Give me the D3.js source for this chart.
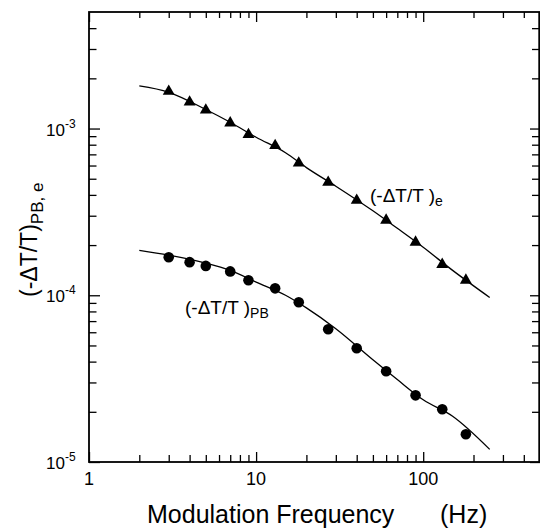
<!DOCTYPE html>
<html>
<head>
<meta charset="utf-8">
<script src="https://cdn.jsdelivr.net/npm/d3@7"></script>
<style>
	body { margin: 0; background: #fff; }
	svg { display: block; }
	text { font-family: Arial, "Liberation Sans", Helvetica, sans-serif; fill: #000; }
</style>
</head>
<body>
<svg width="540" height="529"></svg>
<script>
// Data
//-----------------------------------------------------------------------------//
const frequencies = [3, 4, 5, 7, 9, 13, 18, 27, 40, 60, 90, 130, 180];
const valuesE = [1.67e-3, 1.44e-3, 1.29e-3, 1.08e-3, 0.92e-3, 0.79e-3, 0.62e-3, 0.476e-3, 0.371e-3, 0.282e-3, 0.208e-3, 0.153e-3, 0.123e-3];
const valuesPB = [1.69e-4, 1.58e-4, 1.50e-4, 1.39e-4, 1.23e-4, 1.10e-4, 0.908e-4, 0.625e-4, 0.481e-4, 0.350e-4, 0.251e-4, 0.207e-4, 0.1466e-4];

// fitted curves, points
const fitFreq = [2, 3, 5, 7, 10, 15, 20, 30, 50, 70, 100, 150, 250];
const fitE = [1.80e-3, 1.65e-3, 1.30e-3, 1.09e-3, 0.887e-3, 0.716e-3, 0.583e-3, 0.451e-3, 0.321e-3, 0.252e-3, 0.194e-3, 0.141e-3, 0.097e-3];
const fitPB = [1.86e-4, 1.74e-4, 1.56e-4, 1.41e-4, 1.20e-4, 1.00e-4, 0.840e-4, 0.630e-4, 0.410e-4, 0.312e-4, 0.236e-4, 0.188e-4, 0.119e-4];

// ticks
const xMajor = [1, 10, 100];
const xMinor = [2, 3, 4, 5, 6, 7, 8, 9, 20, 30, 40, 50, 60, 70, 80, 90, 200, 300, 400];
const yMajor = [1e-5, 1e-4, 1e-3];
const yMinor = [2e-5, 3e-5, 4e-5, 5e-5, 6e-5, 7e-5, 8e-5, 9e-5, 2e-4, 3e-4, 4e-4, 5e-4, 6e-4, 7e-4, 8e-4, 9e-4, 2e-3, 3e-3, 4e-3];
const xTickLabels = ["1", "10", "100"];
const yTickExp = ["-5", "-4", "-3"];

// Constanten
//-----------------------------------------------------------------------------//
const svg = d3.select("svg");
const mLeft = 89, mRight = 540, mTop = 12, mBottom = 462;

const x = d3.scaleLog().domain([1, 500]).range([mLeft, mRight]);
const y = d3.scaleLog().domain([1e-5, 5e-3]).range([mBottom, mTop]);

// Assen met ticks naar binnen
//-----------------------------------------------------------------------------//
function axis(gen, values, size, tx, ty) {
	svg.append("g")
		.attr("transform", `translate(${tx},${ty})`)
		.call(gen.tickValues(values).tickSize(size).tickFormat(""))
		.call(g => g.select(".domain").remove())
		.selectAll("line")
		.attr("stroke", "#000")
		.attr("stroke-width", 1.3);
}

axis(d3.axisBottom(x), xMinor, -7, 0, mBottom);
axis(d3.axisBottom(x), xMajor, -10, 0, mBottom);
axis(d3.axisTop(x), xMinor, -6, 0, mTop);
axis(d3.axisTop(x), xMajor, -10, 0, mTop);
axis(d3.axisLeft(y), yMinor, -7.5, mLeft, 0);
axis(d3.axisLeft(y), yMajor, -11, mLeft, 0);
axis(d3.axisRight(y), yMinor, -8, mRight, 0);
axis(d3.axisRight(y), yMajor, -10, mRight, 0);

// frame
svg.append("rect")
	.attr("x", mLeft)
	.attr("y", mTop)
	.attr("width", mRight - mLeft - 0.8)
	.attr("height", mBottom - mTop)
	.attr("fill", "none")
	.attr("stroke", "#000")
	.attr("stroke-width", 1.8);

// Tick labels
//-----------------------------------------------------------------------------//
svg.append("g")
	.selectAll("text")
	.data(xMajor)
	.join("text")
	.attr("x", d => x(d))
	.attr("y", 485)
	.attr("text-anchor", "middle")
	.style("font-size", "18px")
	.text((d, i) => xTickLabels[i]);

const yLabels = svg.append("g")
	.selectAll("text")
	.data(yMajor)
	.join("text")
	.attr("x", 46)
	.attr("y", d => y(d) + 7)
	.style("font-size", "17px");
yLabels.append("tspan").text("10");
yLabels.append("tspan")
	.attr("dy", -8)
	.style("font-size", "12px")
	.text((d, i) => yTickExp[i]);

// Fit lijnen
//-----------------------------------------------------------------------------//
const line = d3.line()
	.x(d => x(d[0]))
	.y(d => y(d[1]))
	.curve(d3.curveMonotoneX);

[fitE, fitPB].forEach(vals => {
	svg.append("path")
		.datum(fitFreq.map((f, i) => [f, vals[i]]))
		.attr("d", line)
		.attr("fill", "none")
		.attr("stroke", "#000")
		.attr("stroke-width", 1.3);
});

// Markers
//-----------------------------------------------------------------------------//
svg.append("g")
	.selectAll("path")
	.data(frequencies.map((f, i) => [f, valuesE[i]]))
	.join("path")
	.attr("transform", d => `translate(${x(d[0])},${y(d[1])})`)
	.attr("d", d3.symbol().type(d3.symbolTriangle).size(62))
	.attr("fill", "#000");

svg.append("g")
	.selectAll("circle")
	.data(frequencies.map((f, i) => [f, valuesPB[i]]))
	.join("circle")
	.attr("cx", d => x(d[0]))
	.attr("cy", d => y(d[1]))
	.attr("r", 5.3)
	.attr("fill", "#000");

// Labels bij de curves
//-----------------------------------------------------------------------------//
function curveLabel(tx, ty, sub, subDy) {
	const t = svg.append("text")
		.attr("x", tx)
		.attr("y", ty)
		.style("font-size", "19px");
	t.append("tspan").text("(-\u0394T/T )");
	t.append("tspan")
		.attr("dy", subDy)
		.style("font-size", "14px")
		.text(sub);
}
curveLabel(370, 202, "e", 4);
curveLabel(185, 314, "PB", 4);

// As titels
//-----------------------------------------------------------------------------//
svg.append("text")
	.attr("x", 147)
	.attr("y", 523)
	.style("font-size", "25px")
	.text("Modulation Frequency");

svg.append("text")
	.attr("x", 440)
	.attr("y", 523)
	.style("font-size", "25px")
	.text("(Hz)");

const yTitle = svg.append("text")
	.attr("transform", "translate(37,297) rotate(-90)")
	.style("font-size", "23px");
yTitle.append("tspan").text("(-\u0394T/T)");
yTitle.append("tspan")
	.attr("dy", 6)
	.style("font-size", "17px")
	.text("PB, e");
</script>
</body>
</html>
